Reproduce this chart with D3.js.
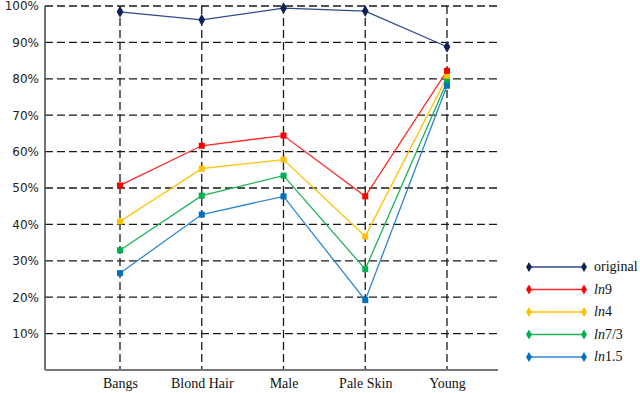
<!DOCTYPE html>
<html>
<head>
<meta charset="utf-8">
<script src="https://cdn.jsdelivr.net/npm/d3@7"></script>
<style>
  html, body { margin: 0; padding: 0; background: #fff; }
  svg { display: block; }
  .serif { font-family: 'Liberation Serif', 'DejaVu Serif', serif; }
</style>
</head>
<body>
<svg id="chart" width="640" height="393"></svg>
<script>
// categories and series
const categories = ['Bangs', 'Blond Hair', 'Male', 'Pale Skin', 'Young'];
const original = [98.4, 96.2, 99.4, 98.6, 88.8];
const ln9 = [50.7, 61.6, 64.4, 47.7, 82.2];
const ln4 = [40.8, 55.3, 57.8, 36.7, 80.5];
const ln73 = [32.9, 47.9, 53.4, 27.7, 79.2];
const ln15 = [26.6, 42.7, 47.7, 19.2, 78.1];
const yTicks = [10, 20, 30, 40, 50, 60, 70, 80, 90, 100];

const series = [
  { name: 'original', values: original, line: '#2f4a88', mark: '#0d2357', sub: null },
  { name: 'ln9', values: ln9, line: '#ff2a2a', mark: '#ff0000', sub: '9' },
  { name: 'ln4', values: ln4, line: '#ffc000', mark: '#ffc000', sub: '4' },
  { name: 'ln7/3', values: ln73, line: '#1fb25a', mark: '#00b050', sub: '7/3' },
  { name: 'ln1.5', values: ln15, line: '#2f86d0', mark: '#0070c0', sub: '1.5' }
];

const svg = d3.select('#chart');
const plotLeft = 45, plotRight = 498, plotTop = 6, plotBottom = 370;

const x = d3.scalePoint()
  .domain(categories)
  .range([120, 447]);

const y = d3.scaleLinear()
  .domain([0, 100])
  .range([plotBottom, plotTop]);

// horizontal grid
svg.append('g')
  .selectAll('line')
  .data(yTicks)
  .enter()
  .append('line')
  .attr('x1', plotLeft)
  .attr('x2', plotRight)
  .attr('y1', d => y(d))
  .attr('y2', d => y(d))
  .attr('stroke', '#1a1a1a')
  .attr('stroke-width', 1.3)
  .attr('stroke-dasharray', '8,4');

// vertical grid
svg.append('g')
  .selectAll('line')
  .data(categories)
  .enter()
  .append('line')
  .attr('x1', d => x(d))
  .attr('x2', d => x(d))
  .attr('y1', plotTop)
  .attr('y2', plotBottom)
  .attr('stroke', '#1a1a1a')
  .attr('stroke-width', 1.3)
  .attr('stroke-dasharray', '8,4');

// axes
const yAxis = svg.append('g')
  .attr('transform', `translate(${plotLeft},0)`)
  .call(d3.axisLeft(y).tickValues(yTicks).tickSize(0).tickPadding(6).tickFormat(d => d + '%'));
yAxis.select('.domain').remove();
yAxis.selectAll('text')
  .style('font-family', "'DejaVu Sans', Verdana, sans-serif")
  .style('font-size', '12px')
  .style('fill', '#222');

svg.append('line')
  .attr('x1', plotLeft).attr('x2', plotLeft)
  .attr('y1', plotTop).attr('y2', plotBottom)
  .attr('stroke', '#444').attr('stroke-width', 1.5);
svg.append('line')
  .attr('x1', plotLeft).attr('x2', plotRight)
  .attr('y1', plotBottom).attr('y2', plotBottom)
  .attr('stroke', '#777').attr('stroke-width', 2);

const xAxis = svg.append('g')
  .attr('transform', `translate(0,${plotBottom})`)
  .call(d3.axisBottom(x).tickSize(0).tickPadding(8));
xAxis.select('.domain').remove();
xAxis.attr('font-family', null);
xAxis.selectAll('text')
  .attr('class', 'serif')
  .style('font-size', '14px')
  .style('fill', '#111');

// lines and markers
const line = d3.line()
  .x((d, i) => x(categories[i]))
  .y(d => y(d));

const diamond = d3.symbol().type(d3.symbolDiamond).size(40);
const square = d3.symbol().type(d3.symbolSquare).size(36);

series.forEach((s, k) => {
  svg.append('path')
    .datum(s.values)
    .attr('fill', 'none')
    .attr('stroke', s.line)
    .attr('stroke-width', 1.3)
    .attr('d', line);

  svg.append('g')
    .selectAll('path')
    .data(s.values)
    .enter()
    .append('path')
    .attr('transform', (d, i) => `translate(${x(categories[i])},${y(d)})`)
    .attr('d', k === 0 ? diamond : square)
    .attr('fill', s.mark);
});

// legend
const legend = svg.append('g');
series.forEach((s, k) => {
  const ly = 267 + k * 22.5;
  legend.append('line')
    .attr('x1', 529).attr('x2', 584)
    .attr('y1', ly).attr('y2', ly)
    .attr('stroke', s.line).attr('stroke-width', 1.5);
  [529, 584].forEach(lx => {
    legend.append('path')
      .attr('transform', `translate(${lx},${ly})`)
      .attr('d', d3.symbol().type(d3.symbolDiamond).size(30))
      .attr('fill', s.mark);
  });
  const t = legend.append('text')
    .attr('class', 'serif')
    .attr('x', 594)
    .attr('y', ly + 4)
    .style('font-size', '14px')
    .style('fill', '#111');
  if (s.sub === null) {
    t.text(s.name);
  } else {
    t.append('tspan').style('font-style', 'italic').text('ln');
    t.append('tspan').text(s.sub);
  }
});
</script>
</body>
</html>
